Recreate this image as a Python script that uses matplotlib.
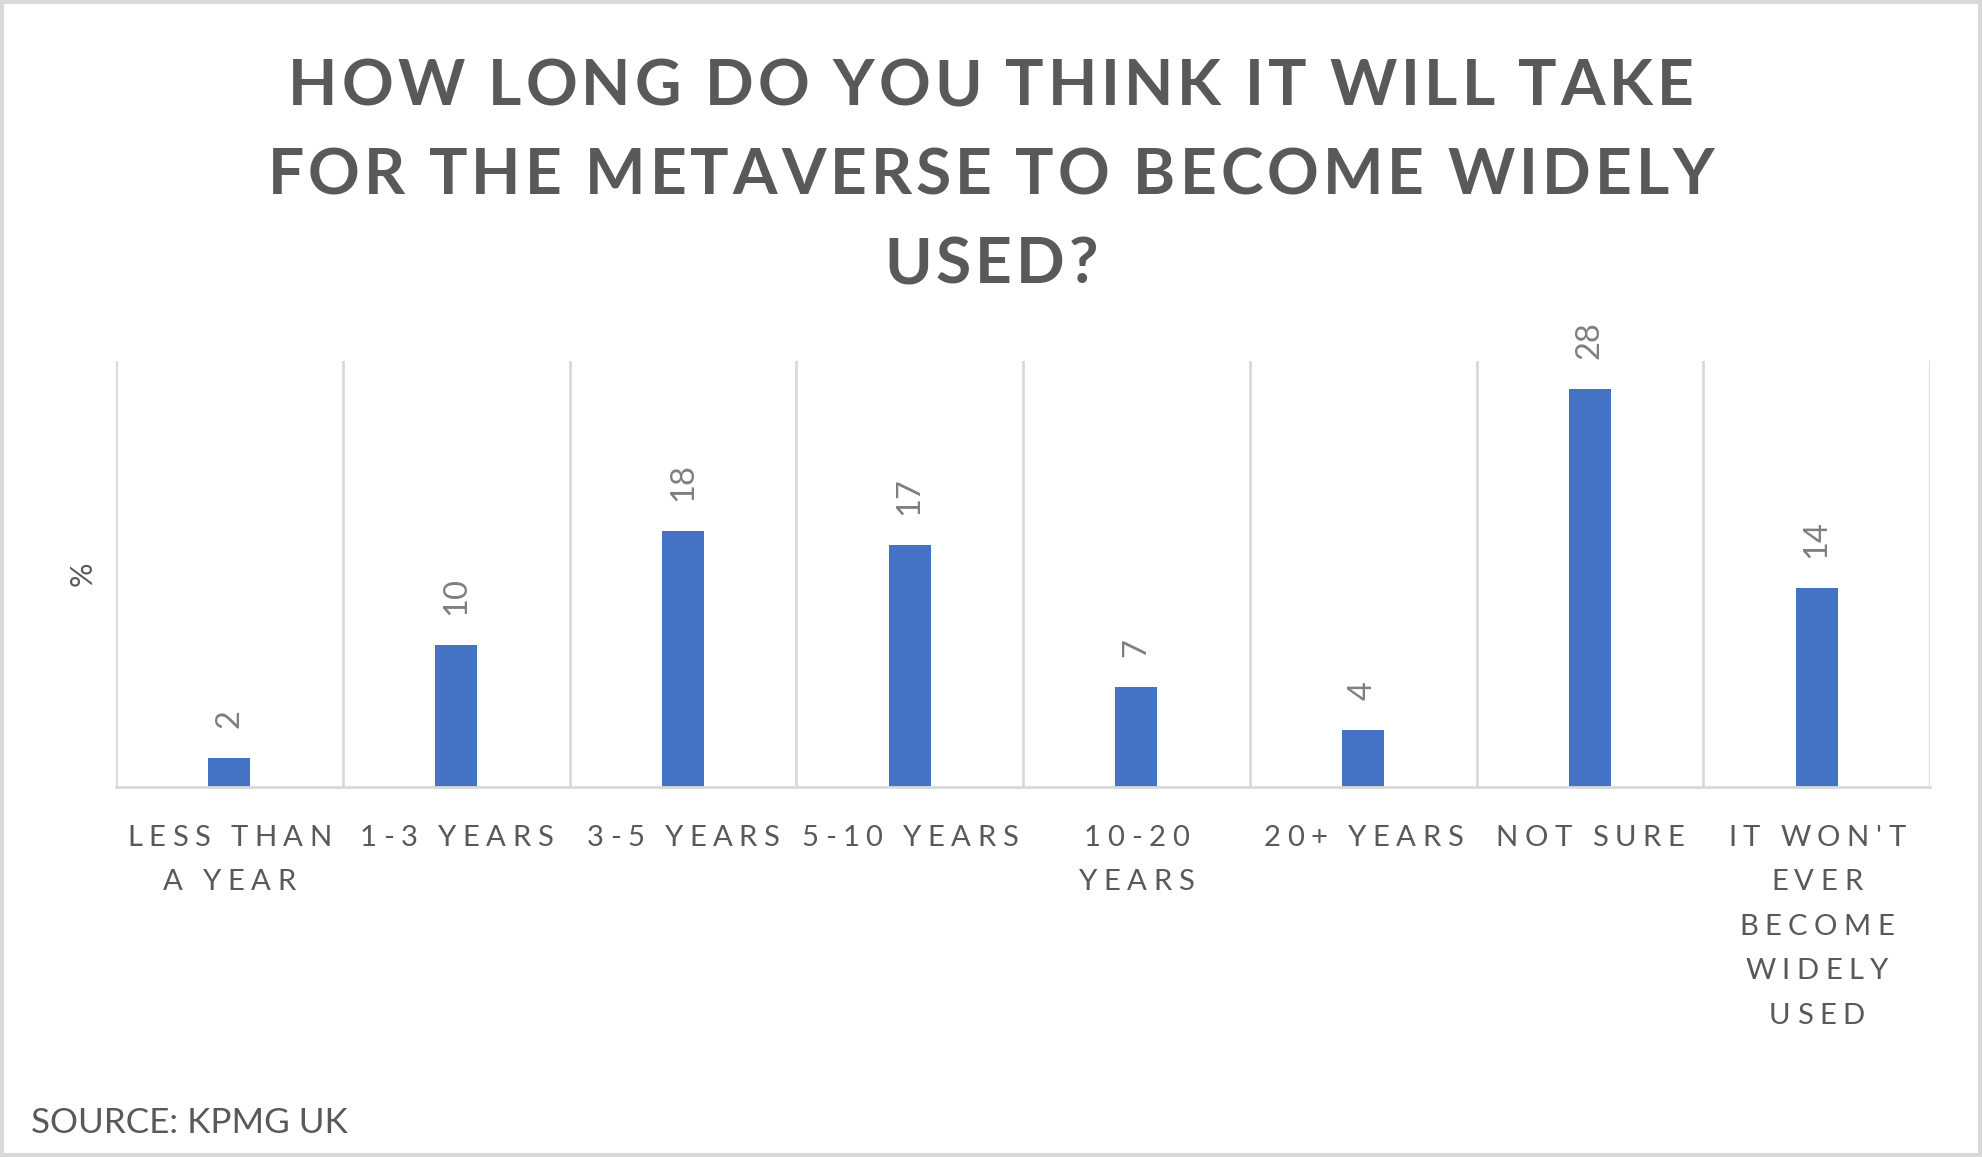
import numpy as np
import matplotlib
matplotlib.use("Agg")
import matplotlib.pyplot as plt
from matplotlib.font_manager import FontProperties, findfont, get_font
from matplotlib.transforms import ScaledTranslation, blended_transform_factory

# ---------------- data ----------------
categories = ["LESS THAN\nA YEAR", "1-3 YEARS", "3-5 YEARS", "5-10 YEARS",
              "10-20\nYEARS", "20+ YEARS", "NOT SURE",
              "IT WON'T\nEVER\nBECOME\nWIDELY\nUSED"]
values = [2, 10, 18, 17, 7, 4, 28, 14]
title_lines = ["HOW LONG DO YOU THINK IT WILL TAKE",
               "FOR THE METAVERSE TO BECOME WIDELY",
               "USED?"]
y_label = "%"
source_text = "SOURCE: KPMG UK"

# ---------------- style ----------------
DPI = 100
W, H = 1982, 1157
BAR_COLOR = "#4472C4"
GRID_COLOR = "#D9D9D9"
TEXT_DARK = "#595959"
LABEL_GRAY = "#7F7F7F"
FONT = "Lato"


def tracked_text(fig, s, x, y, transform, size, weight, color, track_em,
                 ha="center", dy_px=0.0, family=FONT):
    """Draw text with letter spacing (tracking), one glyph per Text."""
    fp = FontProperties(family=family, weight=weight, size=size)
    font = get_font(findfont(fp))
    font.set_size(size, DPI)
    advs = [font.load_char(ord(ch)).linearHoriAdvance / 65536 for ch in s]
    track = track_em * size * DPI / 72.0
    total = sum(advs) + track * (len(s) - 1)
    pen = -total / 2.0 if ha == "center" else 0.0
    for ch, a in zip(s, advs):
        if not ch.isspace():
            t = transform + ScaledTranslation(pen / DPI, dy_px / DPI,
                                              fig.dpi_scale_trans)
            fig.text(x, y, ch, transform=t, fontproperties=fp, color=color,
                     ha="left", va="baseline")
        pen += a + track


fig = plt.figure(figsize=(W / DPI, H / DPI), dpi=DPI, facecolor="white",
                 edgecolor=GRID_COLOR, linewidth=4.5)

ax = fig.add_axes([116 / W, 1 - 786.5 / H, (1930 - 116) / W, (786.5 - 361) / H])

n = len(categories)
x = np.arange(n)
ax.bar(x, values, width=0.185, color=BAR_COLOR, zorder=3)
ax.set_xlim(-0.5, n - 0.5)
ax.set_ylim(0, 30)

# category separators (vertical gridlines)
ax.set_xticks(np.arange(-0.5, n, 1), minor=True)
ax.set_xticks(x)
ax.set_xticklabels([])
ax.grid(axis="x", which="minor", color=GRID_COLOR, linewidth=2.0, zorder=0)
ax.grid(axis="x", which="major", visible=False)
ax.tick_params(axis="both", which="both", length=0)
ax.set_yticks([])
for side in ["top", "right", "left"]:
    ax.spines[side].set_visible(False)
ax.spines["bottom"].set_color(GRID_COLOR)
ax.spines["bottom"].set_linewidth(2.0)
ax.spines["bottom"].set_zorder(4)

# data labels (rotated)
for xi, v in zip(x, values):
    ax.annotate(str(v), xy=(xi, v), xytext=(0, 30 * 72 / DPI),
                textcoords="offset points", rotation=90, ha="center",
                va="bottom", fontsize=23.5, family=FONT, color=LABEL_GRAY)

# y label
ax.set_ylabel(y_label, fontsize=22, family=FONT, color=TEXT_DARK, labelpad=14)

# category labels with tracking
tick_tr = blended_transform_factory(ax.transData, ax.transAxes)
for xi, cat in zip(x, categories):
    for li, line in enumerate(cat.split("\n")):
        tracked_text(fig, line, xi, 0.0, tick_tr, size=21.1, weight="normal",
                     color=TEXT_DARK, track_em=0.22,
                     dy_px=-(59.5 + 44.4 * li))

# title
for li, line in enumerate(title_lines):
    tracked_text(fig, line, 0.5, 1 - (105 + 89 * li) / H, fig.transFigure,
                 size=46.2, weight="bold", color=TEXT_DARK, track_em=0.062)

# source
fig.text(31 / W, 1 - 1133 / H, source_text, fontsize=25.2, family=FONT,
         color=TEXT_DARK, ha="left", va="baseline")

fig.savefig("out.png", dpi=DPI)
